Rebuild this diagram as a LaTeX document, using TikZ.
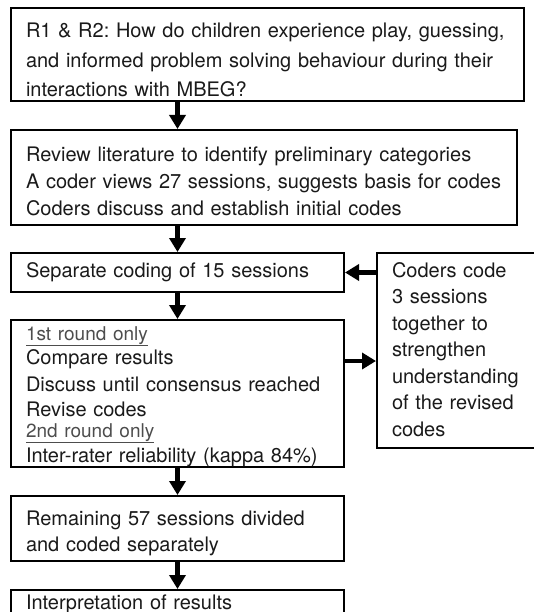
\documentclass[tikz,border=0pt]{standalone}
\usepackage{fontspec}
\setmainfont{TeX Gyre Heros}
\usepackage{xcolor}
\usepackage{tikz}
\usetikzlibrary{positioning}
\usetikzlibrary{arrows.meta}
\definecolor{ink}{HTML}{1A1A1A}
\definecolor{note}{HTML}{4D4D4D}
\frenchspacing
\tikzset{	node distance=26pt,
	stepbox/.style={
		draw, line width=2pt,
		inner xsep=15pt, inner ysep=0pt,
		align=left, text=ink,
		font=\fontsize{20pt}{26pt}\selectfont},
	every edge/.style={
		draw,
		-{Triangle[width=16pt,length=14pt]},
		line width=4.5pt}
}
\newcommand{\roundnote}[1]{{\fontsize{19}{22}\selectfont\color{note}\underline{#1}}}

\begin{document}
\begin{tikzpicture}
				\useasboundingbox (0,0) rectangle (533pt,-612pt);
				\node[stepbox, anchor=north west, text width=483pt, text height=30pt, text depth=63pt, font=\fontsize{20pt}{29.5pt}\selectfont] (rq) at (10pt,-7pt) {R1 \& R2: How do children experience play, guessing,\\ and informed problem solving behaviour during their\\ interactions with MBEG?};
				\node[stepbox, below=27pt of rq.south west, anchor=north west, text width=476pt, text height=32pt, text depth=63pt, font=\fontsize{20pt}{27pt}\selectfont] (review) {Review literature to identify preliminary categories\\ A coder views 27 sessions, suggests basis for codes\\ Coders discuss and establish initial codes};
				\node[stepbox, below=of review.south west, anchor=north west, text width=303pt, text height=24pt, text depth=15pt] (sep) {Separate coding of 15 sessions};
				\node[stepbox, right=31pt of sep.north east, anchor=north west, text width=128pt, inner xsep=15pt, text height=24pt, text depth=171pt, font=\fontsize{20pt}{26.5pt}\selectfont] (together) {Coders code\\ 3 sessions\\ together to\\ strengthen\\ understanding\\ of the revised\\ codes};
				\node[stepbox, below=of sep.south west, anchor=north west, text width=303pt, text height=20pt, text depth=127pt] (compare) {\roundnote{1st round only}\\[-2pt] Compare results\\[1pt] Discuss until consensus reached\\[-1pt] Revise codes\\[-5pt] \roundnote{2nd round only}\\[-1pt] Inter-rater reliability (kappa 84\%)};
				\node[stepbox, below=27pt of compare.south west, anchor=north west, text width=303pt, text height=29pt, text depth=36pt] (remain) {Remaining 57 sessions divided\\ and coded separately};
				\node[stepbox, below=27pt of remain.south west, anchor=north west, text width=303pt, text height=19pt, text depth=30pt] (interp) {Interpretation of results};
				\coordinate (loop) at ([yshift=-42pt]compare.north east);
				\draw (rq.south -| sep.north) edge (review.north -| sep.north);
				\draw (review.south -| sep.north) edge (sep.north);
				\draw (sep) edge (compare);
				\draw (compare) edge (remain);
				\draw (remain) edge (interp);
				\draw (together.west |- sep.east) edge (sep.east);
				\draw (loop) edge (loop -| together.west);
			\end{tikzpicture}
\end{document}
